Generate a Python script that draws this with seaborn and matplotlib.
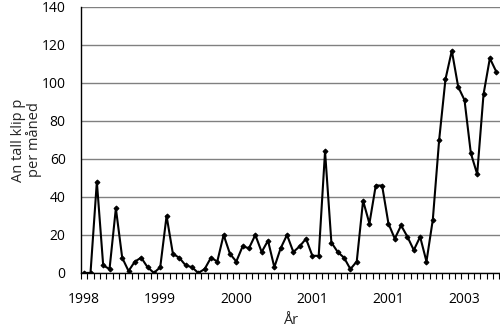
import matplotlib
matplotlib.use("Agg")
import matplotlib.pyplot as plt
import seaborn as sns
import numpy as np
import pandas as pd

values_1998 = [0, 0, 48, 4, 2, 34, 8, 1, 6, 8, 3, 0]
values_1999 = [3, 30, 10, 8, 4, 3, 0, 2, 8, 6, 20, 10]
values_2000 = [6, 14, 13, 20, 11, 17, 3, 13, 20, 11, 14, 18]
values_2001 = [9, 9, 64, 16, 11, 8, 2, 6, 38, 26, 46, 46]
values_2002 = [26, 18, 25, 19, 12, 19, 6, 28, 70, 102, 117, 98]
values_2003 = [91, 63, 52, 94, 113, 106]
year_labels = ["1998", "1999", "2000", "2001", "2001", "2003"]

values = values_1998 + values_1999 + values_2000 + values_2001 + values_2002 + values_2003
df = pd.DataFrame({"month": np.arange(len(values)), "count": values})

sns.set_theme(style="white")
plt.rcParams["font.family"] = ["Open Sans", "DejaVu Sans"]

fig = plt.figure(figsize=(5, 3.32), dpi=100)
ax = fig.add_axes([0.162, 0.178, 0.838, 0.801])

sns.lineplot(data=df, x="month", y="count", ax=ax, color="black", linewidth=1.5,
             marker="D", markersize=2.5, markeredgecolor="black", markerfacecolor="black")

ax.set_ylim(0, 140)
ax.set_yticks(range(0, 141, 20))
ax.set_xlim(-0.5, 65.6)
ax.set_xticks([0, 12, 24, 36, 48, 60])
ax.set_xticklabels(year_labels)
ax.set_xticks(np.arange(-0.5, 66, 1), minor=True)
ax.tick_params(axis="x", which="major", length=0, pad=14, labelsize=10, colors="black")
ax.tick_params(axis="x", which="minor", length=4, width=0.8, direction="out", color="black", bottom=True)
ax.tick_params(axis="y", length=0, pad=11, labelsize=10, colors="black")

ax.yaxis.grid(True, color="#808080", linewidth=1.0)
ax.set_axisbelow(True)
for s in ["top", "right"]:
    ax.spines[s].set_visible(False)
for s in ["left", "bottom"]:
    ax.spines[s].set_color("black")
    ax.spines[s].set_linewidth(1.0)

ax.set_xlabel("År", fontsize=10.5, va="center")
ax.xaxis.set_label_coords(0.5, -0.18)
ax.set_ylabel("An tall klip p\nper måned", fontsize=10.5, linespacing=1.05, va="center")
ax.yaxis.set_label_coords(-0.13, 0.5)

fig.savefig("out.png", dpi=100)
